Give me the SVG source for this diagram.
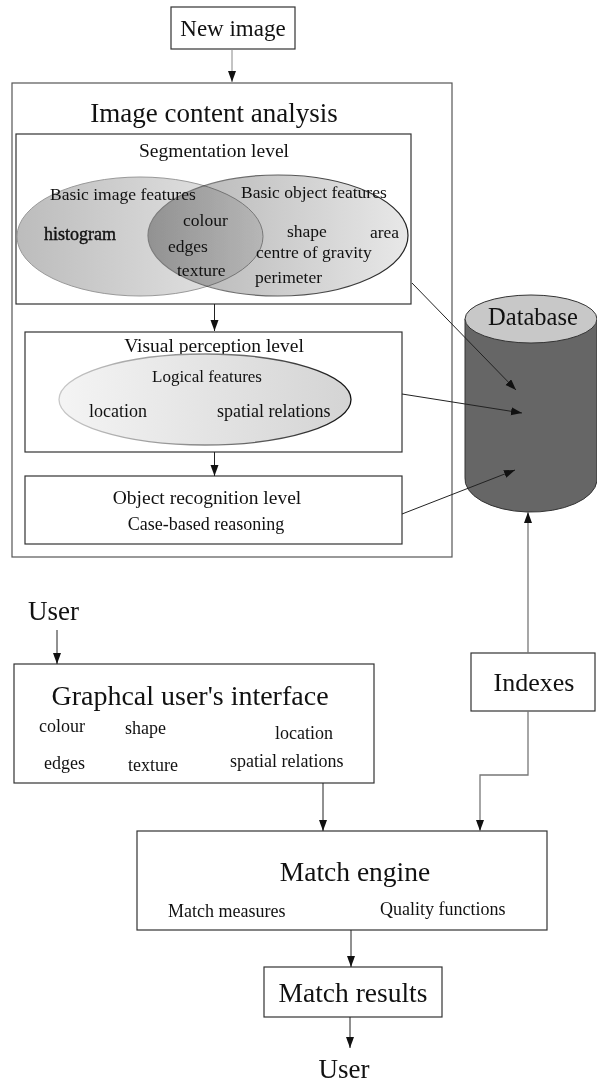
<svg xmlns="http://www.w3.org/2000/svg" width="597" height="1082" viewBox="0 0 597 1082">
<style>
text{font-family:"Liberation Serif","Times New Roman",serif;fill:#111}
.box{fill:#fff;stroke:#333;stroke-width:1.2}
.outer{fill:#fff;stroke:#555;stroke-width:1.2}
.ln{fill:none;stroke:#222;stroke-width:1}
.gl{fill:none;stroke:#777;stroke-width:1.3}
.m{text-anchor:middle}
</style>
<defs>
<marker id="ah" markerUnits="userSpaceOnUse" markerWidth="12" markerHeight="10" refX="11" refY="4" orient="auto">
<path d="M0,0 L11,4 L0,8 Z" fill="#111"/>
</marker>
<linearGradient id="gL" x1="0" y1="0" x2="1" y2="0">
<stop offset="0" stop-color="#bcbcbc"/><stop offset="1" stop-color="#e8e8e8"/>
</linearGradient>
<linearGradient id="gR" x1="0" y1="0" x2="1" y2="0">
<stop offset="0" stop-color="#b0b0b0"/><stop offset="1" stop-color="#e8e8e8"/>
</linearGradient>
<linearGradient id="gRs" x1="0" y1="0" x2="1" y2="0">
<stop offset="0" stop-color="#999"/><stop offset="1" stop-color="#222"/>
</linearGradient>
<linearGradient id="gV" x1="0" y1="0" x2="1" y2="0">
<stop offset="0" stop-color="#f4f4f4"/><stop offset="1" stop-color="#d4d4d4"/>
</linearGradient>
<linearGradient id="gVs" x1="0" y1="0" x2="1" y2="0">
<stop offset="0" stop-color="#c8c8c8"/><stop offset="0.5" stop-color="#888"/><stop offset="1" stop-color="#111"/>
</linearGradient>
</defs>

<g id="new-image">
<rect class="box" x="171" y="7" width="124" height="42"/>
<text class="m" x="233" y="36" font-size="23">New image</text>
</g>

<g id="image-content-analysis">
<rect class="outer" x="12" y="83" width="440" height="474"/>
<text class="m" x="214" y="122" font-size="27">Image content analysis</text>
</g>

<g id="segmentation-level">
<rect class="box" x="16" y="134" width="395" height="170"/>
<text class="m" x="214" y="157" font-size="19.5">Segmentation level</text>
<ellipse cx="140" cy="236.5" rx="123" ry="59.5" fill="url(#gL)" stroke="#999" stroke-width="1"/>
<ellipse cx="278" cy="235.5" rx="130" ry="60.5" fill="url(#gR)" stroke="url(#gRs)" stroke-width="1.2" style="mix-blend-mode:multiply"/>
<text x="50" y="200" font-size="17.5">Basic image features</text>
<text x="241" y="198" font-size="17.5">Basic object features</text>
<text x="183" y="226" font-size="17.5">colour</text>
<text x="44" y="240" font-size="18" stroke="#111" stroke-width="0.4">histogram</text>
<text x="287" y="237" font-size="17.5">shape</text>
<text x="370" y="238" font-size="17.5">area</text>
<text x="168" y="252" font-size="17.5">edges</text>
<text x="256" y="258" font-size="17.5">centre of gravity</text>
<text x="177" y="276" font-size="17.5">texture</text>
<text x="255" y="283" font-size="17.5">perimeter</text>
</g>

<g id="visual-perception-level">
<rect class="box" x="25" y="332" width="377" height="120"/>
<text class="m" x="214" y="352" font-size="19.5">Visual perception level</text>
<ellipse cx="205" cy="399.5" rx="146" ry="45.5" fill="url(#gV)" stroke="url(#gVs)" stroke-width="1.3"/>
<text class="m" x="207" y="382" font-size="17">Logical features</text>
<text x="89" y="417" font-size="18">location</text>
<text x="217" y="417" font-size="18">spatial relations</text>
</g>

<g id="object-recognition-level">
<rect class="box" x="25" y="476" width="377" height="68"/>
<text class="m" x="207" y="504" font-size="19.5">Object recognition level</text>
<text class="m" x="206" y="530" font-size="18">Case-based reasoning</text>
</g>

<g id="database">
<path d="M465,319 L465,477 A66,33 0 0 0 597,481 L597,319 Z" fill="#666" stroke="#333" stroke-width="1"/>
<ellipse cx="531" cy="319" rx="66" ry="24" fill="#c8c8c8" stroke="#333" stroke-width="1"/>
<text class="m" x="533" y="325" font-size="24.5">Database</text>
</g>

<g id="user-top">
<text x="28" y="620" font-size="27">User</text>
</g>

<g id="gui">
<rect class="box" x="14" y="664" width="360" height="119"/>
<text class="m" x="190" y="705" font-size="28">Graphcal user's interface</text>
<text x="39" y="732" font-size="18">colour</text>
<text x="125" y="734" font-size="18">shape</text>
<text x="275" y="739" font-size="18">location</text>
<text x="44" y="769" font-size="18">edges</text>
<text x="128" y="771" font-size="18">texture</text>
<text x="230" y="767" font-size="18">spatial relations</text>
</g>

<g id="indexes">
<rect class="box" x="471" y="653" width="124" height="58"/>
<text class="m" x="534" y="691" font-size="26">Indexes</text>
</g>

<g id="match-engine">
<rect class="box" x="137" y="831" width="410" height="99"/>
<text class="m" x="355" y="881" font-size="27.5">Match engine</text>
<text x="168" y="917" font-size="18">Match measures</text>
<text x="380" y="915" font-size="18">Quality functions</text>
</g>

<g id="match-results">
<rect class="box" x="264" y="967" width="178" height="50"/>
<text class="m" x="353" y="1002" font-size="27.5">Match results</text>
</g>

<g id="user-bottom">
<text class="m" x="344" y="1078" font-size="27">User</text>
</g>

<g id="connectors">
<line x1="232" y1="49" x2="232" y2="82" stroke="#888" stroke-width="1" marker-end="url(#ah)"/>
<line class="ln" x1="214.5" y1="304" x2="214.5" y2="331" marker-end="url(#ah)"/>
<line class="ln" x1="214.5" y1="452" x2="214.5" y2="476" marker-end="url(#ah)"/>
<line class="ln" x1="412" y1="283" x2="516" y2="390" marker-end="url(#ah)"/>
<line class="ln" x1="402" y1="394" x2="522" y2="413" marker-end="url(#ah)"/>
<line class="ln" x1="402" y1="514" x2="515" y2="470" marker-end="url(#ah)"/>
<line class="gl" x1="528" y1="653" x2="528" y2="512" marker-end="url(#ah)"/>
<line class="ln" x1="57" y1="630" x2="57" y2="664" marker-end="url(#ah)"/>
<line class="ln" x1="323" y1="783" x2="323" y2="831" marker-end="url(#ah)"/>
<path class="gl" d="M528,711 L528,775 L480,775 L480,831" stroke="#555" marker-end="url(#ah)"/>
<line class="ln" x1="351" y1="930" x2="351" y2="967" marker-end="url(#ah)"/>
<line class="ln" x1="350" y1="1017" x2="350" y2="1048" marker-end="url(#ah)"/>
</g>
</svg>
